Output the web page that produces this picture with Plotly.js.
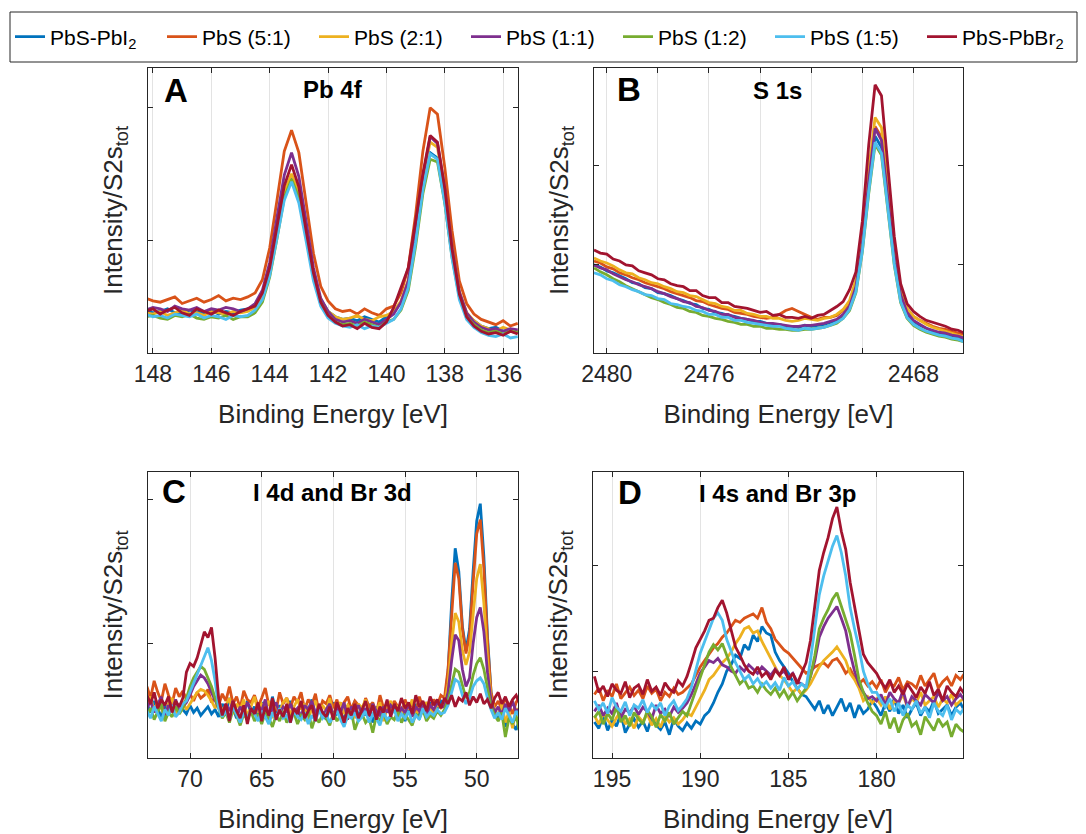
<!DOCTYPE html>
<html>
<head>
<meta charset="utf-8">
<script src="https://cdn.plot.ly/plotly-3.0.1.min.js"></script>
<style>html,body{margin:0;padding:0;background:#fff;}#chart{width:1086px;height:834px;}</style>
</head>
<body>
<div id="chart"></div>
<script>
// ---------- series names and colours ----------
const seriesNames = ['PbS-PbI<sub>2</sub>', 'PbS (5:1)', 'PbS (2:1)', 'PbS (1:1)', 'PbS (1:2)', 'PbS (1:5)', 'PbS-PbBr<sub>2</sub>'];
const seriesColors = ['#0072BD', '#D95319', '#EDB120', '#7E2F8E', '#77AC30', '#4DBEEE', '#A2142F'];

// ---------- Panel A: Pb 4f ----------
const energyA = [148.25,148,147.75,147.5,147.25,147,146.75,146.5,146.25,146,145.75,145.5,145.25,145,144.75,144.5,144.25,144,143.75,143.5,143.25,143,142.75,142.5,142.25,142,141.75,141.5,141.25,141,140.75,140.5,140.25,140,139.75,139.5,139.25,139,138.75,138.5,138.25,138,137.75,137.5,137.25,137,136.75,136.5,136.25,136,135.75,135.5];
const pbA_PbI2 = [47,45,46,48,45,44,47,46,45,47,44,46,45,47, 48,50,59,77,105,134,147,132,103,73,55,46,42,40, 41,39,42,40,38,42, 45,53,68,101,139,166,162,130,89,59,44,39,35, 33,34,31,32,30];
const pbA_51 = [56,54,53,55,57,52,54,56,53,55,58,54,56,55, 57,60,70,94,130,167,183,166,128,90,65,54,48,46, 47,44,48,45,43,48, 50,60,79,119,167,200,195,155,107,69,52,44,40, 38,36,39,35,37];
const pbA_21 = [45,44,46,43,45,47,44,45,43,46,45,44,46,45, 46,49,58,77,106,136,150,135,105,74,55,46,42,40, 41,43,40,39,42,43, 46,54,70,105,146,174,170,136,93,61,45,39,35, 33,31,34,32,31];
const pbA_11 = [47,49,48,46,50,48,47,49,46,48,47,49,48,46, 48,52,62,83,117,149,166,148,114,79,56,46,40,38, 39,37,40,38,36,40, 44,53,69,106,148,178,173,139,94,61,45,38,34, 32,33,31,33,32];
const pbA_12 = [42,43,41,40,43,42,44,41,40,42,41,43,40,42, 42,45,53,72,101,132,146,132,103,72,53,43,38,36, 37,35,38,36,34,38, 40,47,62,95,135,161,159,128,87,57,42,36,32, 30,31,29,31,30];
const pbA_15 = [44,42,43,41,44,43,42,44,41,43,42,40,43,42, 43,47,55,73,102,130,144,128,99,69,50,41,37,35, 34,36,33,35,34,37, 40,48,64,98,138,165,161,128,86,55,40,34,30, 28,27,29,26,27];
const pbA_PbBr2 = [46,48,44,47,49,45,43,48,46,44,47,45,43,46, 48,50,60,79,110,141,157,140,107,75,53,43,38,35, 36,33,37,34,33,38, 49,64,79,114,150,179,174,139,93,59,42,35,31, 29,30,28,31,29];

// ---------- Panel B: S 1s ----------
const energyB = [2480.5,2480.25,2480,2479.75,2479.5,2479.25,2479,2478.75,2478.5,2478.25,2478,2477.75,2477.5,2477.25,2477,2476.75,2476.5,2476.25,2476,2475.75,2475.5,2475.25,2475,2474.75,2474.5,2474.25,2474,2473.75,2473.5,2473.25,2473,2472.75,2472.5,2472.25,2472,2471.75,2471.5,2471.25,2471,2470.75,2470.5,2470.25,2470,2469.75,2469.5,2469.25,2469,2468.75,2468.5,2468.25,2468,2467.75,2467.5,2467.25,2467,2466.75,2466.5,2466.25,2466];
const sB_PbI2 = [100,98,94,92,89,86,82,81,77,76,72,71,69,66,64,61,60,56,55,52,51,49,48,46,45,43,43,41,40,40,38,38,37,39,38,39,40, 42,44,49,57,76,118,180,230,219,166,106,68,50,43,39, 36,33,31,30,28,27,25];
const sB_51 = [104,102,98,96,92,90,87,85,82,80,78,76,73,71,69,67,64,63,60,58,56,55,52,51,50,48,47,46,47,50,54,56,53,50,47,45,47, 47,49,54,62,82,124,187,240,229,173,112,72,55,48,44, 41,38,36,35,33,31,30];
const sB_21 = [107,104,102,99,95,92,91,87,85,82,81,78,76,73,72,69,68,65,62,61,58,57,54,54,51,50,48,48,46,46,44,43,44,46,45,44,46, 47,50,55,64,85,129,196,249,239,180,115,74,56,48,44, 40,37,35,33,31,29,27];
const sB_11 = [100,97,95,91,88,85,83,80,78,76,73,71,68,66,63,62,58,57,54,53,50,50,47,46,45,44,42,41,41,40,39,38,38,39,39,40,41, 43,45,50,58,78,121,185,238,226,171,110,70,52,44,40, 36,34,32,31,29,28,26];
const sB_12 = [97,93,90,86,83,79,76,73,70,67,65,62,60,57,56,53,52,49,48,46,45,43,42,40,40,38,38,36,36,35,35,34,34,35,35,36,37, 39,41,46,54,72,113,172,222,211,158,100,62,46,39,35, 32,30,28,27,25,24,22];
const sB_15 = [92,90,86,84,80,78,75,73,70,69,66,65,61,60,58,57,54,53,50,50,47,47,44,44,42,41,40,39,38,38,36,35,34,36,35,36,37, 39,42,46,55,73,114,174,224,213,160,101,63,47,40,36, 33,31,29,28,26,25,22];
const sB_PbBr2 = [115,112,111,106,104,100,99,94,92,90,86,85,81,79,78,74,74,69,67,67,62,62,58,57,56,54,52,53,49,50,47,47,46,48,46,49,50, 54,58,63,75,93,144,221,282,271,203,129,81,61,53,48, 44,42,40,38,35,34,31];

// ---------- Panel C: I 4d and Br 3d ----------
const energyC = [73,72.75,72.5,72.25,72,71.75,71.5,71.25,71,70.75,70.5,70.25,70,69.75,69.5,69.25,69,68.75,68.5,68.25,68,67.75,67.5,67.25,67,66.75,66.5,66.25,66,65.75,65.5,65.25,65,64.75,64.5,64.25,64,63.75,63.5,63.25,63,62.75,62.5,62.25,62,61.75,61.5,61.25,61,60.75,60.5,60.25,60,59.75,59.5,59.25,59,58.75,58.5,58.25,58,57.75,57.5,57.25,57,56.75,56.5,56.25,56,55.75,55.5,55.25,55,54.75,54.5,54.25,54,53.75,53.5,53.25,53,52.75,52.5,52.25,52,51.75,51.5,51.25,51,50.75,50.5,50.25,50,49.75,49.5,49.25,49,48.75,48.5,48.25,48,47.75,47.5,47.25,47];
const cC_PbI2 = [58,52,60,55,49,57,53,61,50,56, 54,51,57,52,55,50,53,56,51,54, 49,58,52,62,55,48,57,53,60,51, 56,50,59,54,47,63,52,57,49,55, 60,51,54,48,58,53,61,50,56,52, 47,55,59,51,53,46,57,52,60,49, 54,50,58,45,56,52,48,55,51,57, 49,53,46,56,51,58,50,54,48,59, 52,55,60, 58,80,128,166,150,112,95,110,150,185,197,160,105,66,52, 48,55,42,50,44,40,47];
const cC_51 = [70,62,74,66,60,72,64,58,69,63, 67,61,65,60,66,62,64,68,59,63, 57,65,60,70,58,63,55,67,61,59, 64,56,62,69,57,60,53,66,58,62, 55,63,59,66,54,61,57,65,52,60, 58,64,55,61,50,59,63,54,60,57, 52,62,56,59,51,64,55,58,53,60, 56,50,61,54,58,52,63,55,59,54, 61,57,64, 62,82,122,156,145,110,93,106,142,176,186,152,102,66,56, 60,54,62,57,51,59,63];
const cC_21 = [57,63,52,60,55,49,58,62,51,56, 59,54,58,62,66,68,67,64,60,55, 60,53,57,62,51,58,54,61,49,56, 63,52,58,55,60,48,57,53,59,62, 50,56,61,54,58,47,55,60,52,57, 53,62,49,56,59,51,57,54,48,58, 55,61,50,57,53,59,46,55,60,52, 57,51,58,54,61,49,56,53,59,55, 52,58,55, 58,72,100,121,115,95,85,94,120,145,155,128,90,62,54, 50,58,45,53,41,55,50];
const cC_11 = [55,60,52,58,63,50,57,54,61,53, 56,59,64,70,74,78,76,72,66,60, 55,51,58,53,60,49,56,52,59,54, 50,57,53,61,48,55,59,51,56,53, 58,52,55,49,57,54,60,51,56,48, 54,58,50,55,52,59,47,56,53,57, 51,55,49,58,53,50,56,52,57,54, 50,55,52,58,49,56,53,59,51,57, 54,59,56, 56,66,88,106,102,82,70,76,100,118,125,108,80,60,52, 56,50,58,53,60,52,55];
const cC_12 = [50,55,47,53,58,46,52,49,56,51, 55,62,70,76,80,84,82,76,70,62, 55,48,52,45,54,50,43,51,47,53, 46,51,44,52,48,42,50,46,53,45, 49,52,44,50,47,53,41,49,45,51, 48,43,52,46,50,44,49,53,40,47, 51,45,48,38,50,46,52,44,49,47, 53,45,50,47,43,51,48,54,46,50, 48,53,50, 54,60,72,82,80,70,62,66,78,86,90,82,68,56,50, 46,52,35,48,44,50,38];
const cC_15 = [53,48,56,51,46,54,50,57,49,52, 58,60,66,72,78,84,90,97,88,74, 55,49,53,47,56,50,45,52,48,54, 51,46,53,49,44,52,47,55,48,50, 45,53,49,47,52,44,50,46,54,48, 51,45,49,53,47,42,50,48,52,46, 49,53,45,51,48,43,52,47,50,54, 46,51,48,53,45,50,47,55,49,52, 50,54,51, 52,57,66,75,73,64,58,62,70,74,76,72,62,54,48, 52,47,55,50,45,53,49];
const cC_PbBr2 = [64,58,66,55,61,57,63,52,60,56, 62,80,86,84,90,100,108,104,111,90, 62,50,58,46,60,53,48,57,44,55, 51,59,46,56,50,62,47,54,49,58, 45,55,51,60,48,53,57,46,58,52, 49,56,47,59,53,45,55,50,58,48, 54,60,50,57,47,56,52,61,49,58, 53,62,55,59,51,64,56,60,53,63, 57,61,55, 62,58,64,56,62,60,66,57,63,59,65,58,61,55,62, 66,58,63,56,61,64,58];

// ---------- Panel D: I 4s and Br 3p ----------
const energyD = [196,195.75,195.5,195.25,195,194.75,194.5,194.25,194,193.75,193.5,193.25,193,192.75,192.5,192.25,192,191.75,191.5,191.25,191,190.75,190.5,190.25,190,189.75,189.5,189.25,189,188.75,188.5,188.25,188,187.75,187.5,187.25,187,186.75,186.5,186.25,186,185.75,185.5,185.25,185,184.75,184.5,184.25,184,183.75,183.5,183.25,183,182.75,182.5,182.25,182,181.75,181.5,181.25,181,180.75,180.5,180.25,180,179.75,179.5,179.25,179,178.75,178.5,178.25,178,177.75,177.5,177.25,177,176.75,176.5,176.25,176,175.75,175.5,175.25,175];
const dD_PbI2 = [52,46,58,44,54,48,60,42,50,55,47,53,43,56,49,45,52,40,55,48, 44,51,46,53, 50,58,62,70,80,88,100,106,115,112,125,120,134,128,142,136,134,118,110,104,98,90,84,78,76, 70,64,72,60,68,58,66,74,62,70,56,68,60,64,72, 66,58,70,62,74,60,68,56,64,70,58,66,62,72,60,64,68,58,66,70,62];
const dD_51 = [78,84,72,82,76,88,74,80,85,77,82,74,86,79,83,72,80,76,84,78, 80,84,88,96, 104,110,116,122,126,132,136,142,148,146,150,152,154,150,160,146,140,130,125,120,117,112,108,102,98, 100,104,106,108,104,110,112,106,98,102,94,88,92,86,90, 84,92,80,88,86,94,82,90,88,84,96,86,92,98,84,90,94,86,96,92,98];
const dD_21 = [58,50,60,54,48,56,62,50,55,46,57,52,60,49,55,47,58,52,56,50, 54,60,58,66, 74,82,92,96,102,108,112,118,126,132,140,142,136,138,128,120,112,104,96,92,86,80,84,78,82, 88,96,104,110,114,118,123,116,110,98,92,84,72,76,70, 74,68,76,64,72,70,78,66,74,70,80,68,72,76,66,74,70,78,68,72,74];
const dD_11 = [62,68,58,65,60,70,56,64,61,67,59,66,62,55,68,60,64,57,66,61, 65,70,78,88, 98,104,110,108,112,106,104,100,98,104,100,106,102,98,104,100,96,102,97,100,94,98,90,88,85, 95,110,132,142,150,156,161,150,138,117,100,88,80,74,76, 72,78,68,80,74,70,82,66,76,72,68,78,74,70,80,72,76,68,74,78,72];
const dD_12 = [56,62,50,60,54,66,52,58,48,61,55,50,63,57,47,59,53,61,50,56, 62,58,70,82, 95,108,118,125,120,126,114,104,96,88,92,84,86,80,88,82,78,84,76,82,74,80,72,78,84, 95,115,140,150,158,168,174,162,150,136,115,92,80,70,62, 58,50,62,46,56,42,54,60,48,52,40,57,50,44,55,48,52,38,50,45,42];
const dD_15 = [72,64,70,60,75,66,62,71,58,68,65,73,61,69,64,70,58,67,72,63, 68,74,85,100, 117,128,140,150,155,148,130,118,108,100,92,96,88,93,86,90,84,89,82,94,86,90,83,88,84, 110,140,172,190,205,218,228,212,190,160,140,122,100,88,80, 80,72,66,74,62,70,58,68,64,72,60,66,56,70,62,58,68,54,64,60,66];
const dD_PbBr2 = [95,80,86,76,88,82,79,90,75,84,87,78,92,81,85,77,89,83,80,91, 86,95,108,122, 130,138,148,150,160,167,155,140,123,115,106,100,97,104,95,99,92,101,96,104,92,98,88,98,108, 129,160,195,212,226,244,255,232,215,184,160,139,116,108,103, 98,90,84,92,80,86,78,88,82,75,85,79,90,77,83,72,86,80,76,84,78];

// ---------- tick labels ----------
const ticksA = [148,146,144,142,140,138,136];
const ticksB = [2480,2476,2472,2468];
const minorTicksB = [2478,2474,2470];
const ticksC = [70,65,60,55,50];
const ticksD = [195,190,185,180,175];

const panelTitles = ['Pb 4f', 'S 1s', 'I 4d and Br 3d', 'I 4s and Br 3p'];
const panelLetters = ['A', 'B', 'C', 'D'];

// ---------- build ----------
const W = 1086, H = 834;
const FONT = 'Liberation Sans, Arial, Helvetica, sans-serif';
const panels = [
  {x: energyA, ys: [pbA_PbI2, pbA_51, pbA_21, pbA_11, pbA_12, pbA_15, pbA_PbBr2], xr: [148.17, 135.49], yr: [14.6, 230], tv: ticksA, minor: null, box: [148, 518, 68, 353]},
  {x: energyB, ys: [sB_PbI2, sB_51, sB_21, sB_11, sB_12, sB_15, sB_PbBr2], xr: [2480.5, 2466.06], yr: [11, 299], tv: ticksB, minor: minorTicksB, box: [594, 963, 68, 353]},
  {x: energyC, ys: [cC_PbI2, cC_51, cC_21, cC_11, cC_12, cC_15, cC_PbBr2], xr: [72.93, 47.12], yr: [20.4, 219], tv: ticksC, minor: null, box: [148, 518, 472, 758]},
  {x: energyD, ys: [dD_PbI2, dD_51, dD_21, dD_11, dD_12, dD_15, dD_PbBr2], xr: [196.08, 175.1], yr: [18, 288], tv: ticksD, minor: null, box: [593, 963, 472, 758]}
];

const traces = [];
const layout = {
  width: W, height: H,
  margin: {l: 0, r: 0, t: 0, b: 0},
  paper_bgcolor: '#ffffff', plot_bgcolor: '#ffffff',
  font: {family: FONT, color: '#262626'},
  showlegend: true,
  legend: {
    orientation: 'h', x: 10 / W, xanchor: 'left', y: 1 - 37 / H, yanchor: 'middle',
    bgcolor: 'rgba(0,0,0,0)', borderwidth: 0,
    entrywidthmode: 'pixels', entrywidth: 107,
    font: {family: FONT, size: 21, color: '#000000'}
  },
  // legend frame
  shapes: [{type: 'rect', xref: 'paper', yref: 'paper', x0: 10 / W, x1: 1077 / W, y0: 1 - 62 / H, y1: 1 - 12 / H,
    line: {color: '#262626', width: 1}, fillcolor: 'rgba(0,0,0,0)', layer: 'below'}],
  annotations: []
};

panels.forEach((p, k) => {
  const n = k + 1;
  const xa = n === 1 ? 'x' : 'x' + n;
  const ya = n === 1 ? 'y' : 'y' + n;
  p.ys.forEach((ys, s) => {
    traces.push({
      type: 'scatter', mode: 'lines', x: p.x, y: ys,
      xaxis: xa, yaxis: ya,
      name: seriesNames[s], legendgroup: 'g' + s, showlegend: k === 0,
      line: {color: seriesColors[s], width: 2.8}
    });
  });
  const [x0, x1, y0, y1] = p.box;
  const xaxis = {
    domain: [x0 / W, x1 / W], anchor: ya, range: p.xr,
    tickmode: 'array', tickvals: p.tv,
    showgrid: true, gridcolor: '#e3e3e3', gridwidth: 1, zeroline: false,
    showline: true, linecolor: '#262626', linewidth: 1, mirror: 'ticks',
    ticks: 'inside', ticklen: 5, tickcolor: '#262626',
    tickfont: {family: FONT, size: 23, color: '#262626'},
    title: {text: 'Binding Energy [eV]', font: {family: FONT, size: 26, color: '#262626'}, standoff: 19}
  };
  if (p.minor) {
    xaxis.minor = {tickmode: 'array', tickvals: p.minor, ticks: 'inside', ticklen: 5, tickcolor: '#262626',
      showgrid: true, gridcolor: '#e3e3e3', gridwidth: 1};
  }
  layout['xaxis' + (n === 1 ? '' : n)] = xaxis;
  layout['yaxis' + (n === 1 ? '' : n)] = {
    domain: [1 - y1 / H, 1 - y0 / H], anchor: xa, range: p.yr,
    tickmode: 'array', tickvals: [100, 200], showticklabels: false,
    showgrid: false, zeroline: false,
    showline: true, linecolor: '#262626', linewidth: 1, mirror: 'ticks',
    ticks: 'inside', ticklen: 5, tickcolor: '#262626',
    title: {text: 'Intensity/S2s<sub>tot</sub>', font: {family: FONT, size: 26, color: '#262626'}, standoff: 16}
  };
});

// panel letters and titles (pixel positions converted to paper coords)
const letterPos = [[176, 90], [629, 89], [174, 491], [630, 492]];
const titlePos = [[333, 89], [778, 91], [332, 492], [778, 493]];
panelLetters.forEach((t, k) => {
  layout.annotations.push({text: '<b>' + t + '</b>', xref: 'paper', yref: 'paper',
    x: letterPos[k][0] / W, y: 1 - letterPos[k][1] / H, xanchor: 'center', yanchor: 'middle',
    showarrow: false, font: {family: FONT, size: 33, color: '#000000'}});
  layout.annotations.push({text: '<b>' + panelTitles[k] + '</b>', xref: 'paper', yref: 'paper',
    x: titlePos[k][0] / W, y: 1 - titlePos[k][1] / H, xanchor: 'center', yanchor: 'middle',
    showarrow: false, font: {family: FONT, size: 24, color: '#000000'}});
});

Plotly.newPlot('chart', traces, layout, {displayModeBar: false, staticPlot: true});
</script>
</body>
</html>
